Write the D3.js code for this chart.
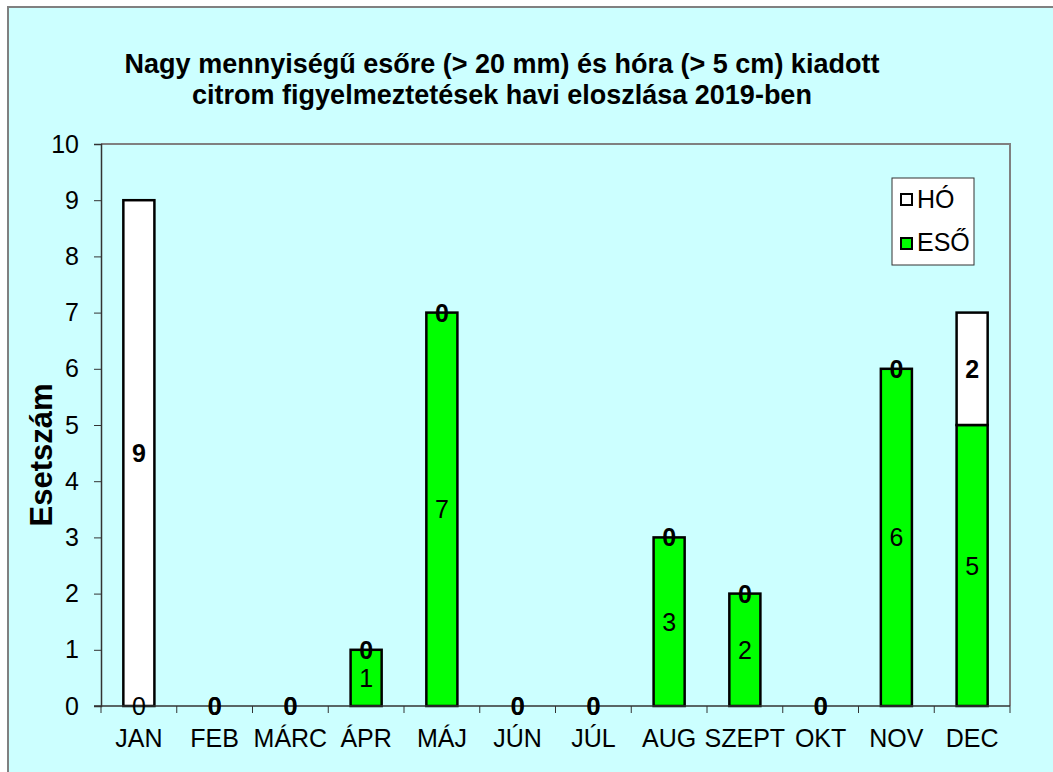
<!DOCTYPE html>
<html>
<head>
<meta charset="utf-8">
<script src="https://cdn.jsdelivr.net/npm/d3@7"></script>
<style>
  body { margin: 0; background: #fff; }
  text { font-family: Arial, "Liberation Sans", sans-serif; }
</style>
</head>
<body>
<svg id="chart" width="1053" height="772"></svg>
<script>
// Data
const months = ["JAN", "FEB", "MÁRC", "ÁPR", "MÁJ", "JÚN", "JÚL", "AUG", "SZEPT", "OKT", "NOV", "DEC"];
const esoValues = [0, 0, 0, 1, 7, 0, 0, 3, 2, 0, 6, 5];
const hoValues = [9, 0, 0, 0, 0, 0, 0, 0, 0, 0, 0, 2];
const yTicks = [0, 1, 2, 3, 4, 5, 6, 7, 8, 9, 10];
const titleLines = ["Nagy mennyiségű esőre (> 20 mm) és hóra (> 5 cm) kiadott",
                    "citrom figyelmeztetések havi eloszlása 2019-ben"];

const svg = d3.select("#chart");

// Outer chart background + border
svg.append("rect")
    .attr("x", 8).attr("y", 7)
    .attr("width", 1060).attr("height", 780)
    .attr("fill", "#ccffff")
    .attr("stroke", "#808080")
    .attr("stroke-width", 2);

const plot = { left: 101, top: 144, right: 1010, bottom: 706 };

const x = d3.scaleBand()
    .domain(months)
    .range([plot.left, plot.right])
    .paddingInner(0.59)
    .paddingOuter(0.295);

const band = d3.scaleBand().domain(months).range([plot.left, plot.right]);

const y = d3.scaleLinear()
    .domain([0, 10])
    .range([plot.bottom, plot.top]);

// Plot area border (grey top/right)
svg.append("path")
    .attr("d", `M${plot.left},${plot.top}H${plot.right}V${plot.bottom}`)
    .attr("fill", "none")
    .attr("stroke", "#808080")
    .attr("stroke-width", 2);

// Title
svg.append("g").selectAll("text")
    .data(titleLines)
    .enter()
    .append("text")
    .attr("x", 502)
    .attr("y", (d, i) => 73 + i * 31)
    .attr("text-anchor", "middle")
    .style("font-size", "27px")
    .style("font-weight", "bold")
    .text(d => d);

// Stacked data
const rows = months.map((m, i) => ({ month: m, ESO: esoValues[i], HO: hoValues[i] }));
const stack = d3.stack().keys(["ESO", "HO"])(rows);
const fills = { ESO: "#00ff00", HO: "#ffffff" };

stack.forEach(layer => {
    svg.append("g").selectAll("rect")
        .data(layer.filter(d => d[1] - d[0] > 0))
        .enter()
        .append("rect")
        .attr("x", d => x(d.data.month))
        .attr("y", d => y(d[1]))
        .attr("width", x.bandwidth())
        .attr("height", d => y(d[0]) - y(d[1]))
        .attr("fill", fills[layer.key])
        .attr("stroke", "#000")
        .attr("stroke-width", 2.5);
});

// Y axis
const yAxis = svg.append("g")
    .attr("transform", `translate(${plot.left},0)`)
    .call(d3.axisLeft(y).tickValues(yTicks).tickSize(7).tickPadding(15));
yAxis.selectAll("text")
    .style("font-size", "25px")
    .style("font-family", "Arial, 'Liberation Sans', sans-serif")
    .attr("fill", "#000");
yAxis.selectAll("line").attr("stroke", "#333");
yAxis.select(".domain").attr("stroke", "#333").attr("stroke-width", 1.5);

// X axis with ticks at band boundaries
const xAxisG = svg.append("g").attr("transform", `translate(0,${plot.bottom})`);
xAxisG.append("line")
    .attr("x1", plot.left - 7).attr("x2", plot.right)
    .attr("stroke", "#333").attr("stroke-width", 1.5);
xAxisG.selectAll("line.tick")
    .data(months.concat(["end"]))
    .enter()
    .append("line")
    .attr("class", "tick")
    .attr("x1", (d, i) => band(months[0]) + i * band.bandwidth())
    .attr("x2", (d, i) => band(months[0]) + i * band.bandwidth())
    .attr("y1", 0).attr("y2", 7)
    .attr("stroke", "#333");
xAxisG.selectAll("text")
    .data(months)
    .enter()
    .append("text")
    .attr("x", d => band(d) + band.bandwidth() / 2)
    .attr("y", 41)
    .attr("text-anchor", "middle")
    .style("font-size", "25px")
    .text(d => d);

// Value labels
stack.forEach(layer => {
    svg.append("g").selectAll("text")
        .data(layer)
        .enter()
        .append("text")
        .attr("x", d => x(d.data.month) + x.bandwidth() / 2)
        .attr("y", d => y((d[0] + d[1]) / 2))
        .attr("dy", "0.36em")
        .attr("text-anchor", "middle")
        .style("font-size", "25px")
        .style("font-weight", layer.key === "HO" ? "bold" : "normal")
        .text(d => d[1] - d[0]);
});

// Y axis title
svg.append("text")
    .attr("transform", `translate(52,455) rotate(-90)`)
    .attr("text-anchor", "middle")
    .style("font-size", "31px")
    .style("font-weight", "bold")
    .text("Esetszám");

// Legend
const legend = svg.append("g").attr("transform", "translate(892,178)");
legend.append("rect")
    .attr("width", 82).attr("height", 87)
    .attr("fill", "#fff")
    .attr("stroke", "#333")
    .attr("stroke-width", 1);
const legendItems = [{ key: "HO", label: "HÓ" }, { key: "ESO", label: "ESŐ" }];
legendItems.forEach((d, i) => {
    legend.append("rect")
        .attr("x", 9).attr("y", 16 + i * 44)
        .attr("width", 11).attr("height", 11)
        .attr("fill", fills[d.key])
        .attr("stroke", "#000")
        .attr("stroke-width", 2);
    legend.append("text")
        .attr("x", 25).attr("y", 30 + i * 43)
        .style("font-size", "25px")
        .text(d.label);
});
</script>
</body>
</html>
